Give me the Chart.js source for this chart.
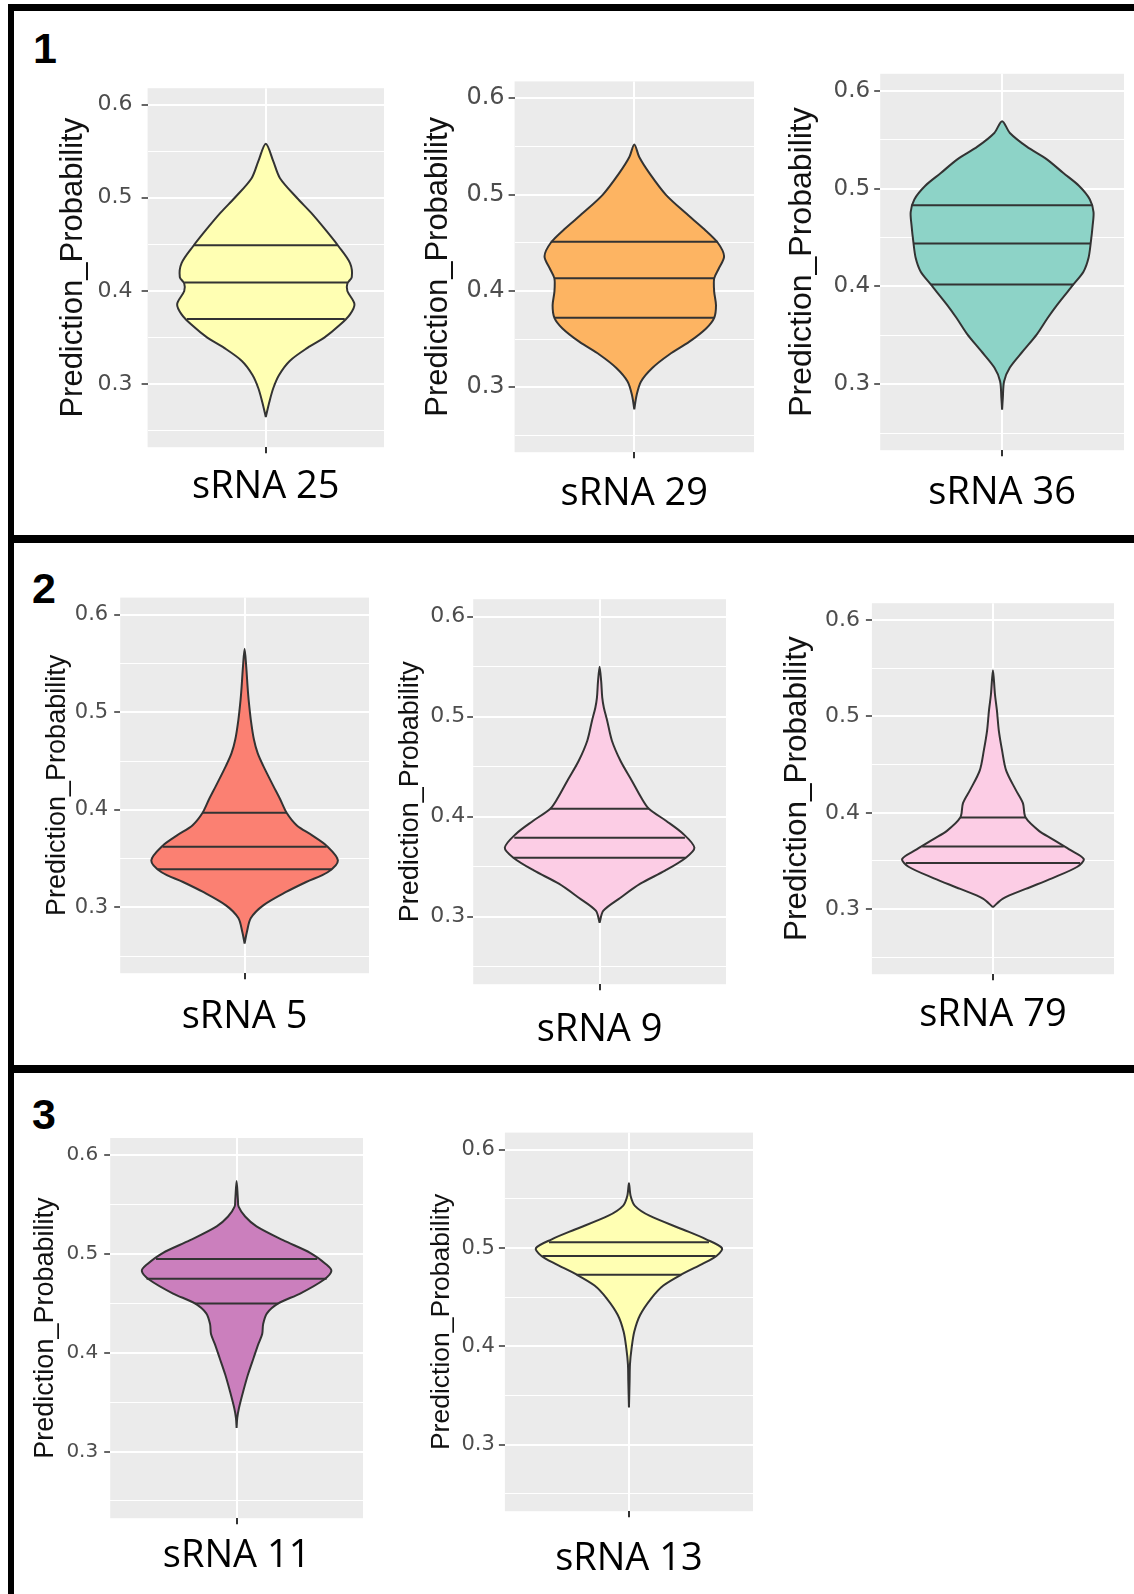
<!DOCTYPE html>
<html>
<head>
<meta charset="utf-8">
<script src="https://cdn.jsdelivr.net/npm/chart.js@4.4.1/dist/chart.umd.min.js"></script>
<style>
  body { margin: 0; background: #fff; width: 1134px; height: 1594px; position: relative; overflow: hidden; }
  .rule { position: absolute; background: #000; }
  .tag { position: absolute; font: bold 43px "Liberation Sans", Arial, sans-serif; line-height: 1; color: #000; }
  canvas { position: absolute; }
</style>
</head>
<body>
<!-- frame lines -->
<div class="rule" style="left:8px; top:4px; width:1126px; height:7px"></div>
<div class="rule" style="left:8px; top:4px; width:6px; height:1590px"></div>
<div class="rule" style="left:8px; top:535px; width:1126px; height:8px"></div>
<div class="rule" style="left:8px; top:1065px; width:1126px; height:8px"></div>

<div class="tag" style="left:33px; top:27px">1</div>
<div class="tag" style="left:32px; top:567px">2</div>
<div class="tag" style="left:32px; top:1093px">3</div>

<script>
// y axis: ylim(0.25, 0.6) with ggplot's 5% expansion
const yMin = 0.2325;
const yMax = 0.6175;
const majorTicks = [0.3, 0.4, 0.5, 0.6];
const minorTicks = [0.25, 0.35, 0.45, 0.55];

const categories = ['sRNA 25', 'sRNA 29', 'sRNA 36', 'sRNA 5', 'sRNA 9', 'sRNA 79', 'sRNA 11', 'sRNA 13'];
const fills = ['#FFFFB3', '#FDB462', '#8DD3C7', '#FB8072', '#FCCDE5', '#FCCDE5', '#CB7FBD', '#FFFFB3'];

// violin outlines: probability level -> relative density (1 = widest point)
const levels25 = [0.265, 0.281, 0.296, 0.310, 0.325, 0.339, 0.350, 0.364, 0.375, 0.386, 0.400, 0.408, 0.415, 0.430, 0.448, 0.466, 0.484, 0.500, 0.521, 0.539, 0.558];
const density25 = [0, 0.04, 0.085, 0.15, 0.27, 0.47, 0.66, 0.84, 0.95, 1.0, 0.92, 0.92, 0.97, 0.95, 0.82, 0.67, 0.51, 0.35, 0.16, 0.085, 0];
const quartiles25 = [0.370, 0.409, 0.449];
const quartileDensity25 = [0.89, 0.92, 0.81];

const levels29 = [0.277, 0.292, 0.306, 0.320, 0.334, 0.347, 0.361, 0.372, 0.385, 0.399, 0.413, 0.423, 0.436, 0.450, 0.464, 0.481, 0.500, 0.522, 0.539, 0.552];
const density29 = [0, 0.026, 0.075, 0.2, 0.39, 0.61, 0.8, 0.89, 0.91, 0.89, 0.89, 0.94, 1.0, 0.93, 0.78, 0.57, 0.35, 0.17, 0.055, 0];
const quartiles29 = [0.372, 0.413, 0.451];
const quartileDensity29 = [0.89, 0.89, 0.93];

const levels36 = [0.274, 0.286, 0.303, 0.317, 0.334, 0.351, 0.368, 0.381, 0.402, 0.415, 0.429, 0.445, 0.462, 0.476, 0.489, 0.503, 0.516, 0.530, 0.543, 0.557, 0.569];
const density36 = [0, 0.008, 0.022, 0.085, 0.23, 0.38, 0.5, 0.6, 0.78, 0.89, 0.945, 0.97, 0.99, 1.0, 0.96, 0.84, 0.67, 0.49, 0.27, 0.085, 0];
const quartiles36 = [0.402, 0.444, 0.483];
const quartileDensity36 = [0.78, 0.97, 0.99];

const levels5 = [0.263, 0.275, 0.289, 0.302, 0.316, 0.326, 0.336, 0.348, 0.363, 0.374, 0.384, 0.397, 0.411, 0.424, 0.445, 0.458, 0.472, 0.492, 0.513, 0.526, 0.546, 0.565];
const density5 = [0, 0.025, 0.067, 0.2, 0.45, 0.66, 0.89, 1.0, 0.88, 0.72, 0.56, 0.45, 0.38, 0.31, 0.2, 0.14, 0.10, 0.067, 0.043, 0.032, 0.018, 0];
const quartiles5 = [0.339, 0.362, 0.397];
const quartileDensity5 = [0.93, 0.88, 0.45];

const levels9 = [0.294, 0.306, 0.319, 0.333, 0.346, 0.359, 0.369, 0.383, 0.396, 0.408, 0.419, 0.436, 0.456, 0.476, 0.496, 0.509, 0.519, 0.535, 0.550];
const density9 = [0, 0.04, 0.22, 0.43, 0.69, 0.91, 1.0, 0.88, 0.70, 0.52, 0.44, 0.34, 0.22, 0.13, 0.08, 0.045, 0.028, 0.017, 0];
const quartiles9 = [0.359, 0.379, 0.408];
const quartileDensity9 = [0.91, 0.9, 0.52];

const levels79 = [0.302, 0.311, 0.321, 0.332, 0.344, 0.352, 0.362, 0.373, 0.381, 0.395, 0.410, 0.424, 0.444, 0.465, 0.485, 0.506, 0.523, 0.548];
const density79 = [0, 0.11, 0.36, 0.65, 0.93, 1.0, 0.84, 0.65, 0.51, 0.36, 0.33, 0.25, 0.145, 0.10, 0.065, 0.044, 0.022, 0];
const quartiles79 = [0.348, 0.365, 0.395];
const quartileDensity79 = [0.96, 0.78, 0.36];

const levels11 = [0.324, 0.334, 0.344, 0.361, 0.378, 0.395, 0.409, 0.419, 0.429, 0.440, 0.450, 0.460, 0.474, 0.483, 0.490, 0.501, 0.514, 0.528, 0.538, 0.548, 0.555, 0.574];
const density11 = [0, 0.007, 0.025, 0.07, 0.12, 0.18, 0.23, 0.27, 0.28, 0.32, 0.44, 0.67, 0.92, 1.0, 0.94, 0.78, 0.49, 0.21, 0.09, 0.021, 0.014, 0];
const quartiles11 = [0.450, 0.475, 0.495];
const quartileDensity11 = [0.44, 0.95, 0.85];

const levels13 = [0.338, 0.365, 0.382, 0.398, 0.415, 0.432, 0.449, 0.462, 0.474, 0.484, 0.492, 0.500, 0.509, 0.519, 0.533, 0.543, 0.553, 0.566];
const density13 = [0, 0.007, 0.011, 0.028, 0.057, 0.12, 0.24, 0.37, 0.58, 0.79, 0.94, 1.0, 0.83, 0.58, 0.22, 0.064, 0.018, 0];
const quartiles13 = [0.473, 0.492, 0.506];
const quartileDensity13 = [0.56, 0.93, 0.86];

const violins = [
  { levels: levels25, density: density25, quartiles: quartiles25, quartileDensity: quartileDensity25 },
  { levels: levels29, density: density29, quartiles: quartiles29, quartileDensity: quartileDensity29 },
  { levels: levels36, density: density36, quartiles: quartiles36, quartileDensity: quartileDensity36 },
  { levels: levels5, density: density5, quartiles: quartiles5, quartileDensity: quartileDensity5 },
  { levels: levels9, density: density9, quartiles: quartiles9, quartileDensity: quartileDensity9 },
  { levels: levels79, density: density79, quartiles: quartiles79, quartileDensity: quartileDensity79 },
  { levels: levels11, density: density11, quartiles: quartiles11, quartileDensity: quartileDensity11 },
  { levels: levels13, density: density13, quartiles: quartiles13, quartileDensity: quartileDensity13 }
];

// where each little ggplot sits on the page (panel rectangle, label positions, font sizes)
const plotBoxes = [
  { l: 148, t: 79.5, r: 384,  b: 447,  titleX: 74,  titleSize: 31,   tickRight: 133, tickSize: 22, labelY: 487 },
  { l: 515, t: 77,   r: 754,  b: 452,  titleX: 439, titleSize: 31,   tickRight: 505, tickSize: 24, labelY: 494 },
  { l: 880, t: 70,   r: 1124, b: 450,  titleX: 802, titleSize: 32,   tickRight: 870, tickSize: 23, labelY: 493 },
  { l: 120, t: 593,  r: 369,  b: 973,  titleX: 57,  titleSize: 27,   tickRight: 108, tickSize: 21, labelY: 1017 },
  { l: 473, t: 598,  r: 726,  b: 984,  titleX: 410, titleSize: 27,   tickRight: 465, tickSize: 22, labelY: 1030 },
  { l: 872, t: 598,  r: 1114, b: 974,  titleX: 797, titleSize: 31.5, tickRight: 860, tickSize: 22, labelY: 1015 },
  { l: 110, t: 1133.5, r: 363, b: 1518, titleX: 45, titleSize: 27,   tickRight: 98,  tickSize: 20, labelY: 1556 },
  { l: 505, t: 1130, r: 753,  b: 1511, titleX: 442, titleSize: 26.5, tickRight: 495, tickSize: 21, labelY: 1559 }
];

const HALF_WIDTH = 0.45;   // ggplot violin width 0.9
const X_RANGE = 0.6;       // discrete axis expansion
const TICK_LEN = 6;
const LABEL_SIZE = 38;

const isMajor = (v) => majorTicks.some(m => Math.abs(m - v) < 1e-6);

// grey ggplot panel
const panelBackground = {
  id: 'panelBackground',
  beforeDraw(chart) {
    const { ctx, chartArea: a } = chart;
    ctx.save();
    ctx.fillStyle = '#EBEBEB';
    ctx.fillRect(a.left, a.top, a.right - a.left, a.bottom - a.top);
    ctx.restore();
  }
};

function makeViolin(i) {
  const box = plotBoxes[i];
  const v = violins[i];
  const yAxisW = box.l - (box.titleX - box.titleSize * 0.6);
  const xAxisH = box.labelY + LABEL_SIZE * 0.6 - box.b;
  const padTop = 14, padRight = 6;
  const w = Math.round(yAxisW + (box.r - box.l) + padRight);
  const h = Math.round(padTop + (box.b - box.t) + xAxisH);

  const canvas = document.createElement('canvas');
  canvas.width = w;
  canvas.height = h;
  canvas.style.left = (box.l - yAxisW) + 'px';
  canvas.style.top = (box.t - padTop) + 'px';
  canvas.style.width = w + 'px';
  canvas.style.height = h + 'px';
  document.body.appendChild(canvas);

  // outline: up the right side, back down the left side
  const right = v.levels.map((y, k) => ({ x: v.density[k] * HALF_WIDTH, y }));
  const left = v.levels.map((y, k) => ({ x: -v.density[k] * HALF_WIDTH, y })).reverse();
  const outline = right.concat(left.slice(1));

  const quartileSets = v.quartiles.map((y, k) => ({
    data: [
      { x: -v.quartileDensity[k] * HALF_WIDTH, y },
      { x: v.quartileDensity[k] * HALF_WIDTH, y }
    ],
    borderColor: '#333333',
    borderWidth: 2,
    pointRadius: 0,
    tension: 0,
    fill: false
  }));

  new Chart(canvas, {
    type: 'line',
    data: {
      datasets: [
        ...quartileSets,
        {
          data: outline,
          borderColor: '#333333',
          backgroundColor: fills[i],
          borderWidth: 2,
          pointRadius: 0,
          tension: 0.3,
          fill: 'shape'
        }
      ]
    },
    options: {
      responsive: false,
      animation: false,
      devicePixelRatio: 1,
      events: [],
      layout: { padding: { left: 0, top: padTop, right: padRight, bottom: 0 } },
      plugins: {
        legend: { display: false },
        tooltip: { enabled: false }
      },
      scales: {
        x: {
          type: 'linear',
          min: -X_RANGE,
          max: X_RANGE,
          afterBuildTicks: (scale) => { scale.ticks = [{ value: 0 }]; },
          afterFit: (scale) => { scale.height = xAxisH; },
          border: { display: false },
          grid: {
            color: '#FFFFFF',
            lineWidth: 2,
            drawTicks: true,
            tickLength: TICK_LEN,
            tickColor: '#333333',
            tickWidth: 2
          },
          ticks: { display: false },
          title: {
            display: true,
            text: categories[i],
            color: '#000000',
            padding: 0,
            font: { family: '"Open Sans", "Noto Sans", sans-serif', size: LABEL_SIZE, lineHeight: 1.2 }
          }
        },
        y: {
          type: 'linear',
          min: yMin,
          max: yMax,
          afterBuildTicks: (scale) => {
            scale.ticks = minorTicks.concat(majorTicks).sort((a, b) => a - b).map(value => ({ value }));
          },
          afterFit: (scale) => { scale.width = yAxisW; },
          border: { display: false },
          grid: {
            color: '#FFFFFF',
            lineWidth: (c) => (c.tick && isMajor(c.tick.value)) ? 2 : 1,
            drawTicks: true,
            tickLength: TICK_LEN,
            tickColor: (c) => (c.tick && isMajor(c.tick.value)) ? '#333333' : 'rgba(0,0,0,0)',
            tickWidth: 1.5
          },
          ticks: {
            autoSkip: false,
            padding: box.l - TICK_LEN - box.tickRight,
            color: '#4D4D4D',
            font: { family: '"DejaVu Sans", sans-serif', size: box.tickSize },
            callback: (value) => isMajor(value) ? value.toFixed(1) : ''
          },
          title: {
            display: true,
            text: 'Prediction_Probability',
            color: '#111111',
            padding: 0,
            font: { family: '"Liberation Sans", Arial, sans-serif', size: box.titleSize, lineHeight: 1.2 }
          }
        }
      }
    },
    plugins: [panelBackground]
  });
}

categories.forEach((_, i) => makeViolin(i));
</script>
</body>
</html>
